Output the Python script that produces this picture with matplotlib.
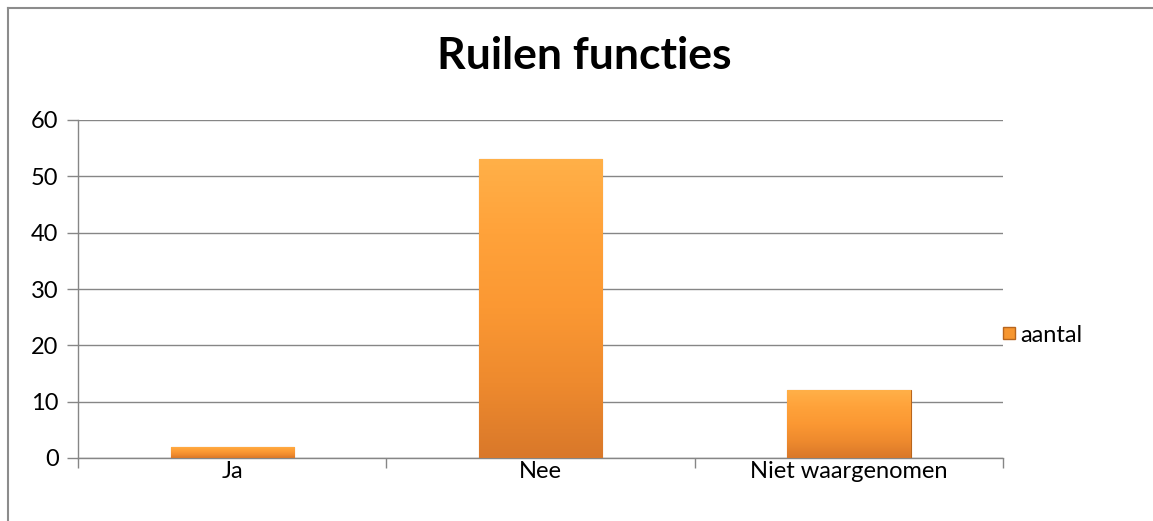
import numpy as np
import matplotlib
matplotlib.use("Agg")
import matplotlib.pyplot as plt
from matplotlib.lines import Line2D
from matplotlib.colors import LinearSegmentedColormap

# chart data
categories = ["Ja", "Nee", "Niet waargenomen"]
aantal = [2, 53, 12]
series_name = "aantal"
title = "Ruilen functies"

plt.rcParams['font.family'] = ['Lato', 'DejaVu Sans']

fig = plt.figure(figsize=(11.53, 5.21), dpi=100)
ax = fig.add_axes([78 / 1153, 1 - 458 / 521, (1003 - 78) / 1153, (458 - 120) / 521])

grid_col = '#868686'
x = np.arange(len(categories))
bar_w = 0.4

# gradient for the bevelled orange bars
cmap = LinearSegmentedColormap.from_list('orng', ['#D9782A', '#EE8A2E', '#FB9833', '#FFA23A', '#FFB048'])
grad = np.linspace(0, 1, 256).reshape(-1, 1)

bars = ax.bar(x, aantal, width=bar_w, color='#F7962F', edgecolor='#B8651C', linewidth=0.8, zorder=3)
for b in bars:
    x0, y0 = b.get_x(), b.get_y()
    w, h = b.get_width(), b.get_height()
    im = ax.imshow(grad, cmap=cmap, aspect='auto', origin='lower',
                   extent=(x0, x0 + w, y0, y0 + h), zorder=3)
    im.set_clip_path(b)

ax.set_xlim(-0.5, len(categories) - 0.5)
ax.set_ylim(0, 60)
ax.set_yticks(range(0, 61, 10))
ax.yaxis.grid(True, color=grid_col, linewidth=1)
ax.set_axisbelow(True)

ax.set_xticks(x)
ax.set_xticklabels(categories)
ax.set_xticks(np.arange(-0.5, len(categories), 1), minor=True)
ax.tick_params(axis='x', which='major', length=0, pad=2, labelsize=17)
ax.tick_params(axis='x', which='minor', length=7, color=grid_col, width=1)
ax.tick_params(axis='y', length=8, color=grid_col, width=1, pad=6, labelsize=17)

for s in ['top', 'right']:
    ax.spines[s].set_visible(False)
for s in ['left', 'bottom']:
    ax.spines[s].set_color(grid_col)
    ax.spines[s].set_linewidth(1)

fig.text(584 / 1153, 1 - 56 / 521, title, ha='center', va='center',
         fontsize=32, fontweight='bold')

handle = Line2D([], [], marker='s', linestyle='none', markersize=8.5,
                markerfacecolor='#F7962F', markeredgecolor='#B8651C')
fig.legend([handle], [series_name], loc='center left',
           bbox_to_anchor=(982 / 1153, 1 - 335 / 521), frameon=False,
           fontsize=17, handletextpad=0.0, handlelength=0.9, borderpad=0.2)

# outer chart border (top and left visible)
fig.add_artist(Line2D([8 / 1153, 8 / 1153], [0, 1 - 8 / 521], color='#8C8C8C', linewidth=1.5))
fig.add_artist(Line2D([8 / 1153, 1], [1 - 8 / 521, 1 - 8 / 521], color='#8C8C8C', linewidth=1.5))

fig.savefig('out.png', dpi=100)
